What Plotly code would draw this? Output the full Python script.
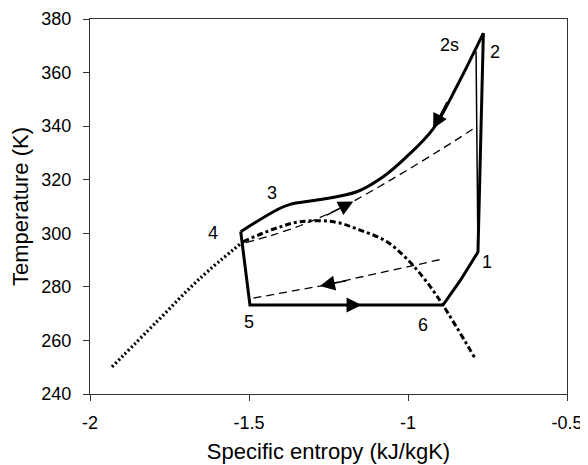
import plotly.graph_objects as go

# cycle points (entropy kJ/kgK, temperature K)
# 4 -> 5 -> 6 -> 1 -> 2
cycle_s = [-1.526, -1.497, -0.890, -0.836, -0.780, -0.763]
cycle_T = [300.6, 273.2, 273.2, 282.3, 293.0, 374.7]

# 2 -> 2s -> 3 -> 4 (gas cooler)
cool_s = [-0.763, -0.847, -0.921, -1.004, -1.078, -1.161, -1.287, -1.371, -1.413, -1.526]
cool_T = [374.7, 354.7, 339.0, 328.6, 321.1, 315.5, 312.4, 310.8, 308.7, 300.6]

# isentropic compression 1 -> 2s
isen_s = [-0.780, -0.786]
isen_T = [293.0, 368.0]

# dashed lines (internal heat exchanger)
hx_hi_s = [-1.51, -1.424, -1.308, -1.203, -1.046, -0.899, -0.784]
hx_hi_T = [296.5, 299.4, 304.3, 310.0, 320.5, 331.1, 339.8]
hx_lo_s = [-1.486, -1.277, -0.894]
hx_lo_T = [275.8, 280.3, 290.3]

# saturation dome
dome_l_s = [-1.931, -1.790, -1.654, -1.518]
dome_l_T = [250.1, 267.0, 283.2, 296.9]
dome_r_s = [-1.518, -1.424, -1.340, -1.235, -1.151, -1.067, -1.004, -0.950, -0.894, -0.789]
dome_r_T = [296.9, 301.5, 304.3, 304.3, 301.2, 296.9, 290.5, 283.2, 273.9, 253.3]

# arrows: (tip s, tip T, tail s, tail T)
arrows = [
    (-0.921, 339.0, -0.875, 349.5),
    (-1.172, 311.9, -1.26, 306.5),
    (-1.277, 280.3, -1.19, 282.4),
    (-1.146, 273.2, -1.24, 273.2),
]

# state point labels
lab_text = ["1", "2", "2s", "3", "4", "5", "6"]
lab_s = [-0.753, -0.726, -0.868, -1.429, -1.612, -1.500, -0.954]
lab_T = [289.4, 367.8, 370.3, 314.9, 300.0, 267.0, 265.8]

x_ticks = [-2, -1.5, -1, -0.5]
y_ticks = [240, 260, 280, 300, 320, 340, 360, 380]

fig = go.Figure()

fig.add_trace(go.Scatter(x=dome_l_s, y=dome_l_T, mode="lines", line_shape="spline",
                         line=dict(color="black", width=3.3, dash="2px,2.5px")))
fig.add_trace(go.Scatter(x=dome_r_s, y=dome_r_T, mode="lines",
                         line=dict(color="black", width=3, shape="spline",
                                   dash="6px,3px,3px,3px")))
fig.add_trace(go.Scatter(x=hx_hi_s, y=hx_hi_T, mode="lines",
                         line=dict(color="black", width=1.3, dash="8px,5px", shape="spline")))
fig.add_trace(go.Scatter(x=hx_lo_s, y=hx_lo_T, mode="lines",
                         line=dict(color="black", width=1.3, dash="8px,5px")))
fig.add_trace(go.Scatter(x=isen_s, y=isen_T, mode="lines",
                         line=dict(color="black", width=1.5)))
fig.add_trace(go.Scatter(x=cool_s, y=cool_T, mode="lines",
                         line=dict(color="black", width=3, shape="spline")))
fig.add_trace(go.Scatter(x=cycle_s, y=cycle_T, mode="lines",
                         line=dict(color="black", width=3)))

for tx, ty, ax_, ay_ in arrows:
    fig.add_annotation(x=tx, y=ty, ax=ax_, ay=ay_, xref="x", yref="y", axref="x", ayref="y",
                       text="", showarrow=True, arrowhead=2, arrowsize=2, arrowwidth=1.5,
                       arrowcolor="black")

for t, s, T in zip(lab_text, lab_s, lab_T):
    fig.add_annotation(x=s, y=T, text=t, showarrow=False,
                       font=dict(size=18, color="black"))

# page body has an 8px margin, so the figure is 8px smaller than the window
fig.update_layout(
    width=580, height=457,
    margin=dict(l=82, r=21, t=11, b=71),
    plot_bgcolor="white", paper_bgcolor="white",
    showlegend=False,
    font=dict(family="Liberation Sans, Arial, sans-serif", size=18, color="black"),
    xaxis=dict(range=[-2, -0.5], tickvals=x_ticks, ticktext=[str(v) for v in x_ticks],
               showgrid=False, zeroline=False, automargin=False,
               showline=True, linecolor="#333", linewidth=1, mirror=True,
               ticks="outside", ticklen=6, tickcolor="#333", ticklabelstandoff=6,
               title=dict(text="Specific entropy (kJ/kgK)", standoff=12)),
    yaxis=dict(range=[240, 380], tickvals=y_ticks, ticktext=[str(v) for v in y_ticks],
               showgrid=False, zeroline=False, automargin=False,
               showline=True, linecolor="#333", linewidth=1, mirror=True,
               ticks="outside", ticklen=6, tickcolor="#333", ticklabelstandoff=8,
               title=dict(text="Temperature (K)", standoff=12)),
)

fig.write_html("out.html")
